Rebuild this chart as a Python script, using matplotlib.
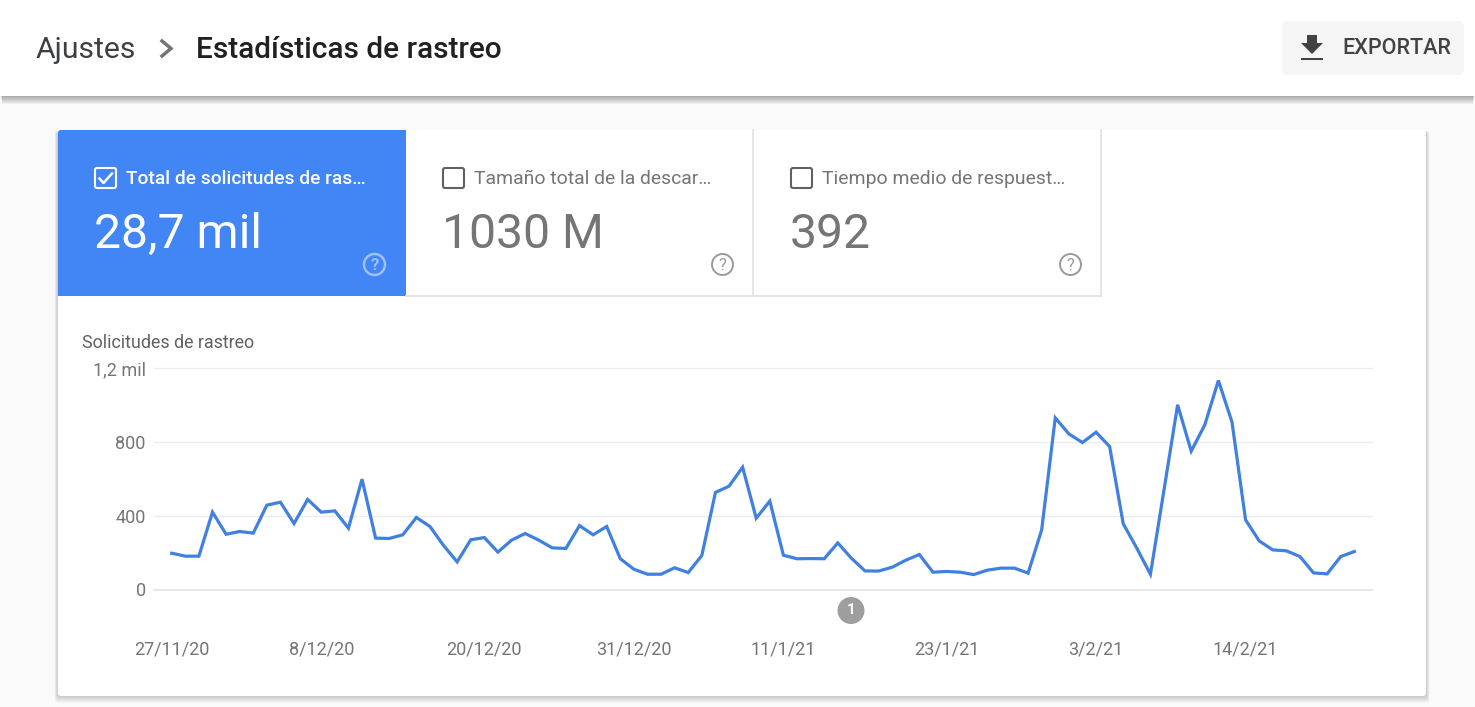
import matplotlib
matplotlib.use("Agg")
import matplotlib.pyplot as plt
from matplotlib.patches import Rectangle, FancyBboxPatch, Circle, Polygon
import pandas as pd

plt.rcParams['font.family'] = ['Roboto', 'DejaVu Sans']

START_DATE = '2020-11-27'
crawl_requests = [197, 181, 181, 420, 300, 315, 306, 458, 474, 358, 489, 420, 427, 333, 599, 279, 277, 297,
                  391, 342, 239, 150, 270, 282, 203, 268, 304, 268, 226, 223, 347, 297, 342, 167, 110, 83,
                  83, 118, 92, 185, 527, 561, 664, 387, 480, 186, 167, 168, 167, 253, 170, 101, 100, 121,
                  159, 190, 94, 98, 94, 81, 105, 116, 116, 89, 324, 932, 845, 798, 854, 776, 357, 224,
                  83, 541, 1003, 751, 894, 1135, 909, 378, 264, 215, 210, 179, 90, 85, 179, 206]
tick_dates = ['2020-11-27', '2020-12-08', '2020-12-20', '2020-12-31', '2021-01-11', '2021-01-23', '2021-02-03', '2021-02-14']
tick_labels = ['27/11/20', '8/12/20', '20/12/20', '31/12/20', '11/1/21', '23/1/21', '3/2/21', '14/2/21']
y_ticks = [0, 400, 800, 1200]
y_labels = ['0', '400', '800', '1,2 mil']
tabs = [('Total de solicitudes de ras…', '28,7 mil'),
        ('Tamaño total de la descar…', '1030 M'),
        ('Tiempo medio de respuest…', '392')]

W, H = 1475, 707
fig = plt.figure(figsize=(W / 100, H / 100), dpi=100, facecolor='#fafafa')

# Page furniture, in pixel coordinates
ui = fig.add_axes([0, 0, 1, 1], zorder=0)
ui.set_xlim(0, W)
ui.set_ylim(H, 0)
ui.axis('off')

# Header
for i in range(1, 9):
    ui.add_patch(Rectangle((i * 0.3, 90), W - i * 0.6, 6 + i, fc='black', ec='none', alpha=0.045, zorder=1))
ui.add_patch(Rectangle((0, 0), W, 96, fc='white', ec='none', zorder=2))
ui.text(36, 49.5, 'Ajustes', fontsize=21.7, color='#3c4043', va='center', zorder=3)
ui.plot([162, 171, 162], [41, 48.5, 56], color='#757575', lw=2.5, zorder=3, solid_joinstyle='miter')
ui.text(196, 49.5, 'Estadísticas de rastreo', fontsize=21.55, color='#202124', va='center', weight='medium', zorder=3)
ui.add_patch(FancyBboxPatch((1285, 24), 176, 48, boxstyle='round,pad=3,rounding_size=6', fc='#f5f5f5', ec='none', zorder=3))
ui.add_patch(Polygon([(1307, 35), (1317, 35), (1317, 43), (1323, 43), (1312, 54), (1301, 43), (1307, 43)], fc='#424242', ec='none', zorder=4))
ui.add_patch(Rectangle((1301, 57.5), 22, 2.6, fc='#424242', ec='none', zorder=4))
ui.text(1342, 49, 'EXPORTAR', fontsize=15.5, color='#424242', va='center', zorder=4, weight='medium')

# Card
for i in range(1, 8):
    ui.add_patch(FancyBboxPatch((58 - i * 0.5, 131), 1368 + i * 1.0, 565 + i * 0.95, boxstyle='round,pad=0,rounding_size=3',
                                fc='black', ec='none', alpha=0.028, zorder=1))
card = FancyBboxPatch((58, 130), 1368, 566, boxstyle='round,pad=0,rounding_size=3', fc='white', ec='none', zorder=2)
ui.add_patch(card)

# Tabs
tab_x = [58, 406, 754]
tab_w = 348
for i, ((label, value), x0) in enumerate(zip(tabs, tab_x)):
    selected = i == 0
    fg = 'white' if selected else '#757575'
    if selected:
        tab = Rectangle((x0, 130), tab_w, 166, fc='#4285f4', ec='none', zorder=3)
        ui.add_patch(tab)
        tab.set_clip_path(card)
    else:
        ui.plot([x0 + tab_w - 1] * 2, [130, 296], color='#e0e0e0', lw=1.2, zorder=4)
        ui.plot([x0, x0 + tab_w - 1], [295.5, 295.5], color='#e0e0e0', lw=1.2, zorder=4)
    ui.add_patch(FancyBboxPatch((x0 + 37, 168), 21, 20, boxstyle='round,pad=0,rounding_size=2', fc='none',
                                ec='white' if selected else '#616161', lw=1.5, zorder=5))
    if selected:
        ui.plot([x0 + 41.5, x0 + 45.5, x0 + 54], [178.5, 183, 173.5], color='white', lw=1.8, zorder=5)
    ui.text(x0 + 68, 179, label, fontsize=13.8 if selected else 13.97, color=fg, va='center',
            weight='medium' if selected else 'normal', zorder=5)
    ui.text(x0 + 36, 234.5, value, fontsize=34.6, color=fg, va='center', zorder=5)
    qc = '#9fc0fa' if selected else '#9a9a9a'
    ui.add_patch(Circle((x0 + 316.5, 264.5), 10.5, fc='none', ec=qc, lw=1.8 if selected else 1.4, zorder=5))
    ui.text(x0 + 316.5, 265, '?', fontsize=12, color=qc, ha='center', va='center', weight='bold' if selected else 'normal', zorder=5)

# Chart
x0_px, x1_px, y_top, y_bot = 154, 1372, 368.5, 589.5
ax = fig.add_axes([x0_px / W, 1 - y_bot / H, (x1_px - x0_px) / W, (y_bot - y_top) / H], zorder=2)
ax.patch.set_alpha(0)
dates = pd.date_range(START_DATE, periods=len(crawl_requests))
ax.plot(dates, crawl_requests, color='#4080e0', lw=2.3, solid_joinstyle='miter', zorder=3, clip_on=False)
ax.set_xlim(dates[0] - pd.Timedelta(days=1.302), dates[0] + pd.Timedelta(days=88.30))
ax.set_ylim(0, 1200)
for s in ax.spines.values():
    s.set_visible(False)
ax.set_yticks(y_ticks, y_labels)
ax.set_xticks(pd.to_datetime(tick_dates), tick_labels)
ax.tick_params(axis='both', length=0, labelsize=13, labelcolor='#757575')
ax.tick_params(axis='y', pad=6)
ax.tick_params(axis='x', pad=36.5)
ax.grid(axis='y', color='#ececec', lw=1, zorder=0)
ax.grid(axis='x', visible=False)
for gl, v in zip(ax.get_ygridlines(), y_ticks):
    gl.set_clip_on(False)
    if v == 0:
        gl.set_color('#e8e8e8')
        gl.set_linewidth(1.4)

ui.text(82, 343.5, 'Solicitudes de rastreo', fontsize=12.9, color='#616161', va='center', zorder=5)
ui.add_patch(Circle((851, 610.5), 13.5, fc='#9e9e9e', ec='none', zorder=5))
ui.text(851, 610.5, '1', fontsize=11, color='white', ha='center', va='center', weight='bold', zorder=6)

fig.savefig('out.png', dpi=100, facecolor=fig.get_facecolor())
